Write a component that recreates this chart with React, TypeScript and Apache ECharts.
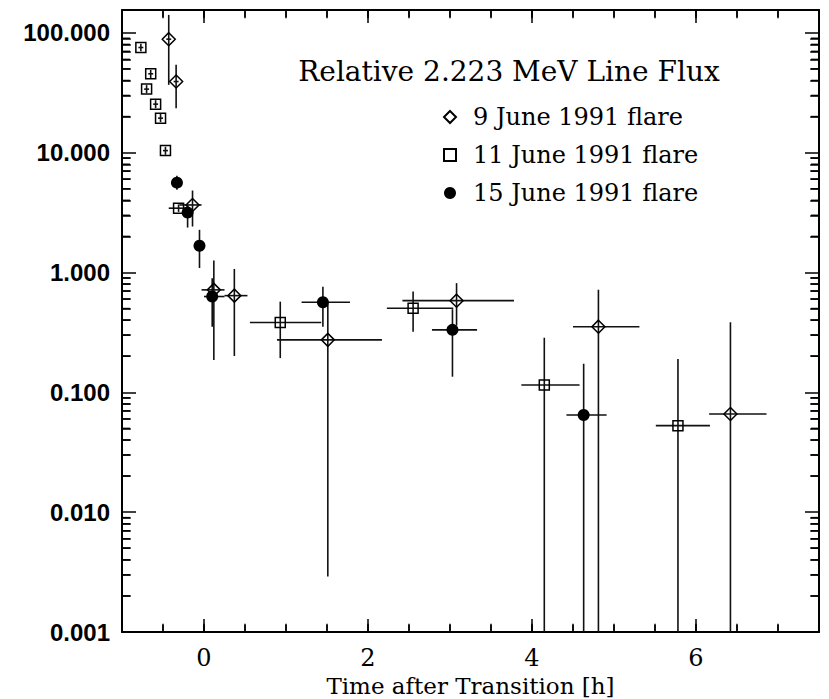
import React, { useEffect, useRef } from 'react';
import * as echarts from 'echarts';

// ---- axes ----
const X_MIN = -1;
const X_MAX = 7.5;
const Y_MIN = 0.001;
const Y_MAX = 155;
const X_LABELS = [0, 2, 4, 6];
const X_MINOR_STEP = 0.5;
const Y_DECADES = [0.001, 0.01, 0.1, 1, 10];
const Y_MINOR_MULT = [2, 3, 4, 5, 6, 7, 8, 9];
const BELOW = 0.0001; // lower error reaches past the bottom of the plot

const TITLE = 'Relative 2.223 MeV Line Flux';
const X_NAME = 'Time after Transition [h]';
const NAMES = ['9 June 1991 flare', '11 June 1991 flare', '15 June 1991 flare'];

// ---- 9 June 1991 flare ----
const j9Time = [-0.43, -0.34, -0.14, 0.12, 0.37, 1.51, 3.08, 4.81, 6.42];
const j9Flux = [88.5, 39.2, 3.66, 0.716, 0.641, 0.274, 0.582, 0.353, 0.066];
const j9TLo = [-0.46, -0.37, -0.3, -0.03, 0.25, 0.89, 2.42, 4.5, 6.16];
const j9THi = [-0.4, -0.31, -0.03, 0.25, 0.53, 2.17, 3.78, 5.31, 6.86];
const j9FLo = [36.8, 23.5, 2.42, 0.186, 0.201, 0.0029, 0.36, BELOW, BELOW];
const j9FHi = [141, 54.1, 4.83, 1.256, 1.07, 0.555, 0.815, 0.716, 0.384];

// ---- 11 June 1991 flare ----
const j11Time = [-0.77, -0.7, -0.65, -0.59, -0.53, -0.47, -0.31, 0.93, 2.55, 4.15, 5.78];
const j11Flux = [75.4, 33.9, 45.5, 25.4, 19.4, 10.4, 3.44, 0.382, 0.503, 0.115, 0.0527];
const j11TLo = [-0.8, -0.73, -0.68, -0.62, -0.56, -0.5, -0.43, 0.56, 2.23, 3.87, 5.51];
const j11THi = [-0.74, -0.67, -0.62, -0.56, -0.5, -0.44, -0.2, 1.43, 3.04, 4.58, 6.17];
const j11FLo = [70, 31.4, 42, 23.5, 18, 9.6, 3.2, 0.193, 0.321, BELOW, BELOW];
const j11FHi = [81, 36.6, 49, 27.4, 21, 11.2, 3.7, 0.571, 0.693, 0.286, 0.19];

// ---- 15 June 1991 flare ----
const j15Time = [-0.33, -0.2, -0.055, 0.1, 1.45, 3.03, 4.63];
const j15Flux = [5.62, 3.16, 1.67, 0.63, 0.565, 0.332, 0.0647];
const j15TLo = [-0.36, -0.25, -0.075, 0.0, 1.19, 2.78, 4.42];
const j15THi = [-0.3, -0.15, -0.035, 0.25, 1.78, 3.33, 4.91];
const j15FLo = [4.9, 2.37, 1.09, 0.353, 0.353, 0.135, BELOW];
const j15FHi = [6.4, 3.66, 2.27, 0.895, 0.762, 0.494, 0.173];

const rows = (t: number[], f: number[], tl: number[], th: number[], fl: number[], fh: number[]) =>
  t.map((v, i) => [v, f[i], tl[i], th[i], fl[i], fh[i]]);

const LINE = '#111';

const errorBarItem = (_p: any, api: any) => {
  const x = api.value(0);
  const y = api.value(1);
  const c = api.coord([x, y]);
  const l = api.coord([api.value(2), y]);
  const r = api.coord([api.value(3), y]);
  const lo = api.coord([x, api.value(4)]);
  const hi = api.coord([x, api.value(5)]);
  const style = { stroke: LINE, lineWidth: 1.6 };
  return {
    type: 'group',
    children: [
      { type: 'line', shape: { x1: l[0], y1: c[1], x2: r[0], y2: c[1] }, style },
      { type: 'line', shape: { x1: c[0], y1: lo[1], x2: c[0], y2: hi[1] }, style },
    ],
  };
};

// minor tick positions (log axis: 2..9 in every decade; time axis: every half hour)
const yMinorTicks = Y_DECADES.flatMap((d) => Y_MINOR_MULT.map((m) => d * m));
const yMinorExp = yMinorTicks.map((v) => Math.log10(v));
const xMinorTicks: number[] = [];
for (let t = X_MIN + X_MINOR_STEP; t < X_MAX - 1e-9; t += X_MINOR_STEP) xMinorTicks.push(+t.toFixed(2));

const serif = 'DejaVu Serif';
const FRAME = { show: true, onZero: false, lineStyle: { color: '#000', width: 2 } };
const TICK_LINE = { color: '#000', width: 1.5 };

const isPow10 = (v: number) => {
  const l = Math.log10(v);
  return Math.abs(l - Math.round(l)) < 1e-6;
};

const majorX = (position: 'bottom' | 'top', labels: boolean) => ({
  type: 'value',
  min: X_MIN,
  max: X_MAX,
  position,
  splitLine: { show: false },
  axisLine: FRAME,
  axisTick: { show: true, inside: true, length: 13, customValues: X_LABELS, lineStyle: TICK_LINE },
  axisLabel: labels
    ? { show: true, customValues: X_LABELS, color: '#000', fontFamily: serif, fontSize: 24, margin: 14 }
    : { show: false },
});

const logY = (position: 'left' | 'right', labels: boolean) => ({
  type: 'log',
  logBase: 10,
  min: Y_MIN,
  max: Y_MAX,
  position,
  splitLine: { show: false },
  axisLine: FRAME,
  axisTick: { show: true, inside: true, length: 14, lineStyle: TICK_LINE },
  axisLabel: labels
    ? {
        show: true,
        color: '#000',
        fontFamily: 'Liberation Sans',
        fontWeight: 'bold',
        fontSize: 24,
        margin: 12,
        formatter: (v: number) => (isPow10(v) ? v.toFixed(3) : ''),
      }
    : { show: false },
});

// hidden helper axes whose zero sits at a frame edge, so that minor-tick axes can sit "on zero" there
const helper = (min: number, max: number) => ({
  type: 'value',
  show: false,
  min,
  max,
  axisLine: { onZero: false },
  splitLine: { show: false },
});

const minorXAxis = (position: 'bottom' | 'top', zeroAxis: number) => ({
  type: 'value',
  min: X_MIN,
  max: X_MAX,
  interval: X_MINOR_STEP,
  position,
  splitLine: { show: false },
  axisLine: { show: false, onZero: true, onZeroAxisIndex: zeroAxis },
  axisTick: { show: true, inside: true, length: 7, lineStyle: TICK_LINE },
  axisLabel: { show: false },
});

const minorYAxis = (position: 'left' | 'right', zeroAxis: number) => ({
  type: 'value',
  min: Math.log10(Y_MIN),
  max: Math.log10(Y_MAX),
  position,
  splitLine: { show: false },
  axisLine: { show: false, onZero: true, onZeroAxisIndex: zeroAxis },
  axisTick: { show: true, inside: true, length: 8, customValues: yMinorExp, lineStyle: TICK_LINE },
  axisLabel: { show: false },
});

const markerStyle = { color: 'rgba(0,0,0,0)', borderColor: '#000', borderWidth: 1.5, opacity: 1 };

export default function App() {
  const ref = useRef<HTMLDivElement>(null);
  useEffect(() => {
    if (!ref.current) return;
    const chart = echarts.init(ref.current, undefined, { renderer: 'svg' });
    const errSeries = (name: string, data: number[][]) => ({
      type: 'custom',
      name,
      coordinateSystem: 'cartesian2d',
      xAxisIndex: 0,
      yAxisIndex: 0,
      clip: true,
      silent: true,
      renderItem: errorBarItem,
      encode: { x: 0, y: 1 },
      data,
      z: 3,
    });
    chart.setOption({
      animation: false,
      backgroundColor: '#fff',
      title: {
        text: TITLE,
        left: 509,
        top: 57,
        textAlign: 'center',
        padding: 0,
        textStyle: { fontFamily: serif, fontSize: 28, fontWeight: 'normal', color: '#000' },
      },
      legend: {
        orient: 'vertical',
        left: 443,
        top: 105,
        padding: 0,
        itemWidth: 12,
        itemHeight: 12,
        itemGap: 14,
        selectedMode: false,
        data: NAMES,
        textStyle: { fontFamily: serif, fontSize: 24, color: '#000', padding: [0, 0, 0, 12] },
      },
      grid: { left: 122, right: 10, top: 10, bottom: 67, outerBoundsMode: 'none' },
      xAxis: [
        {
          ...majorX('bottom', true),
          name: X_NAME,
          nameLocation: 'middle',
          nameGap: 37,
          nameTextStyle: { fontFamily: serif, fontSize: 23, color: '#000' },
        },
        majorX('top', false),
        helper(-0.01, 8.5), // 2: zero at the left edge
        helper(-8.5, 0.01), // 3: zero at the right edge
        minorXAxis('bottom', 4),
        minorXAxis('top', 5),
      ],
      yAxis: [
        logY('left', true),
        logY('right', false),
        minorYAxis('left', 2),
        minorYAxis('right', 3),
        helper(-0.01, 5), // 4: zero at the bottom edge
        helper(-5, 0.01), // 5: zero at the top edge
      ],
      series: [
        errSeries('9 June error', rows(j9Time, j9Flux, j9TLo, j9THi, j9FLo, j9FHi)),
        errSeries('11 June error', rows(j11Time, j11Flux, j11TLo, j11THi, j11FLo, j11FHi)),
        errSeries('15 June error', rows(j15Time, j15Flux, j15TLo, j15THi, j15FLo, j15FHi)),
        {
          type: 'scatter',
          name: NAMES[0],
          symbol: 'diamond',
          symbolSize: 13,
          itemStyle: markerStyle,
          data: j9Time.map((t, i) => [t, j9Flux[i]]),
          z: 5,
        },
        {
          type: 'scatter',
          name: NAMES[1],
          symbol: 'rect',
          symbolSize: 10,
          itemStyle: markerStyle,
          data: j11Time.map((t, i) => [t, j11Flux[i]]),
          z: 5,
        },
        {
          type: 'scatter',
          name: NAMES[2],
          symbol: 'circle',
          symbolSize: 12,
          itemStyle: { color: '#000', opacity: 1 },
          data: j15Time.map((t, i) => [t, j15Flux[i]]),
          z: 5,
        },
      ],
    });

    // backup: minor ticks as graphic lines placed through the series' own coordinate system
    try {
      const f = { seriesIndex: 3 };
      const els: any[] = [];
      const st = () => ({ stroke: '#000', lineWidth: 1.5 });
      yMinorTicks.forEach((v) => {
        const pl = chart.convertToPixel(f, [X_MIN, v]) as any;
        const pr = chart.convertToPixel(f, [X_MAX, v]) as any;
        if (!pl || !pr) return;
        els.push({ type: 'line', z: 100, silent: true, shape: { x1: pl[0], y1: pl[1], x2: pl[0] + 8, y2: pl[1] }, style: st() });
        els.push({ type: 'line', z: 100, silent: true, shape: { x1: pr[0] - 8, y1: pr[1], x2: pr[0], y2: pr[1] }, style: st() });
      });
      xMinorTicks.forEach((t) => {
        const pb = chart.convertToPixel(f, [t, Y_MIN]) as any;
        const pt = chart.convertToPixel(f, [t, Y_MAX]) as any;
        if (!pb || !pt) return;
        els.push({ type: 'line', z: 100, silent: true, shape: { x1: pb[0], y1: pb[1], x2: pb[0], y2: pb[1] - 7 }, style: st() });
        els.push({ type: 'line', z: 100, silent: true, shape: { x1: pt[0], y1: pt[1], x2: pt[0], y2: pt[1] + 7 }, style: st() });
      });
      if (els.length) chart.setOption({ graphic: [{ type: 'group', children: els }] });
    } catch (e) {
      // keep the chart even if the backup fails
    }

    return () => chart.dispose();
  }, []);
  return (
    <div
      ref={ref}
      style={{ position: 'fixed', left: 0, top: 0, width: 829, height: 699, background: '#fff' }}
    />
  );
}
